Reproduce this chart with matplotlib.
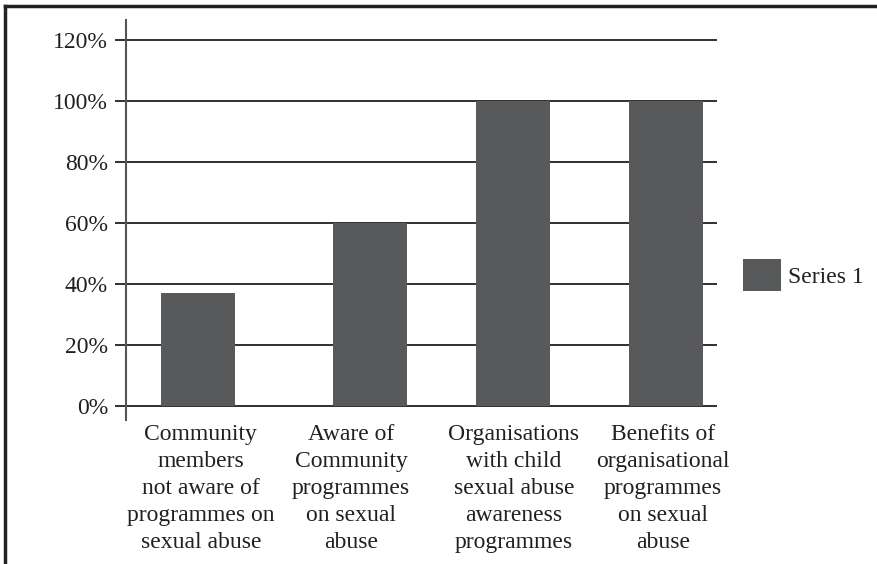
import matplotlib
matplotlib.use("Agg")
import matplotlib.pyplot as plt
from matplotlib.lines import Line2D
from matplotlib.ticker import FuncFormatter

categories = [
    "Community\nmembers\nnot aware of\nprogrammes on\nsexual abuse",
    "Aware of\nCommunity\nprogrammes\non sexual\nabuse",
    "Organisations\nwith child\nsexual abuse\nawareness\nprogrammes",
    "Benefits of\norganisational\nprogrammes\non sexual\nabuse",
]
series_name = "Series 1"
values = [37, 60, 100, 100]
y_ticks = [0, 20, 40, 60, 80, 100, 120]

# layout (category units)
bar_pos = [-0.013, 1.151, 2.122, 3.155]
label_pos = [0.007, 1.023, 2.126, 3.134]

plt.rcParams['font.family'] = ['Liberation Serif', 'DejaVu Serif']
W, H = 878, 564
fig = plt.figure(figsize=(W / 100, H / 100), dpi=100)
ax = fig.add_axes([126 / W, (H - 420) / H, (717 - 126) / W, (420 - 20) / H])

bar_color = '#58595b'
text_color = '#231f20'
bars = ax.bar(bar_pos, values, width=0.50, color=bar_color, zorder=3, label=series_name)

ax.set_xlim(-0.5, 3.5)
ax.set_ylim(-4.6, 126.4)
ax.set_yticks(y_ticks)
ax.yaxis.set_major_formatter(FuncFormatter(lambda v, p: f"{int(v)}%"))
ax.grid(axis='y', color='#231f20', linewidth=1.3, zorder=1)
ax.set_xticks(label_pos)
ax.set_xticklabels(categories, fontsize=17, color=text_color, linespacing=1.37, va='top')
ax.tick_params(axis='x', length=0, pad=3)
ax.tick_params(axis='y', length=8, width=1.3, color='#231f20', labelsize=17,
               labelcolor=text_color, pad=5)
for s in ['top', 'right', 'bottom']:
    ax.spines[s].set_visible(False)
ax.spines['left'].set_color('#555555')
ax.spines['left'].set_linewidth(1.5)

leg = fig.legend(handles=[bars], labels=[series_name], loc='center left',
                 bbox_to_anchor=(722 / W, (H - 275) / H), frameon=False,
                 fontsize=17, handlelength=1.6, handleheight=1.7, handletextpad=0.3,
                 labelcolor=text_color)

# figure border: top and left
fig.add_artist(Line2D([5 / W, 1.0], [(H - 6) / H, (H - 6) / H], color='#222222', linewidth=2.5))
fig.add_artist(Line2D([5 / W, 5 / W], [0, (H - 6) / H], color='#222222', linewidth=2.5))

fig.savefig("out.png", dpi=100)
